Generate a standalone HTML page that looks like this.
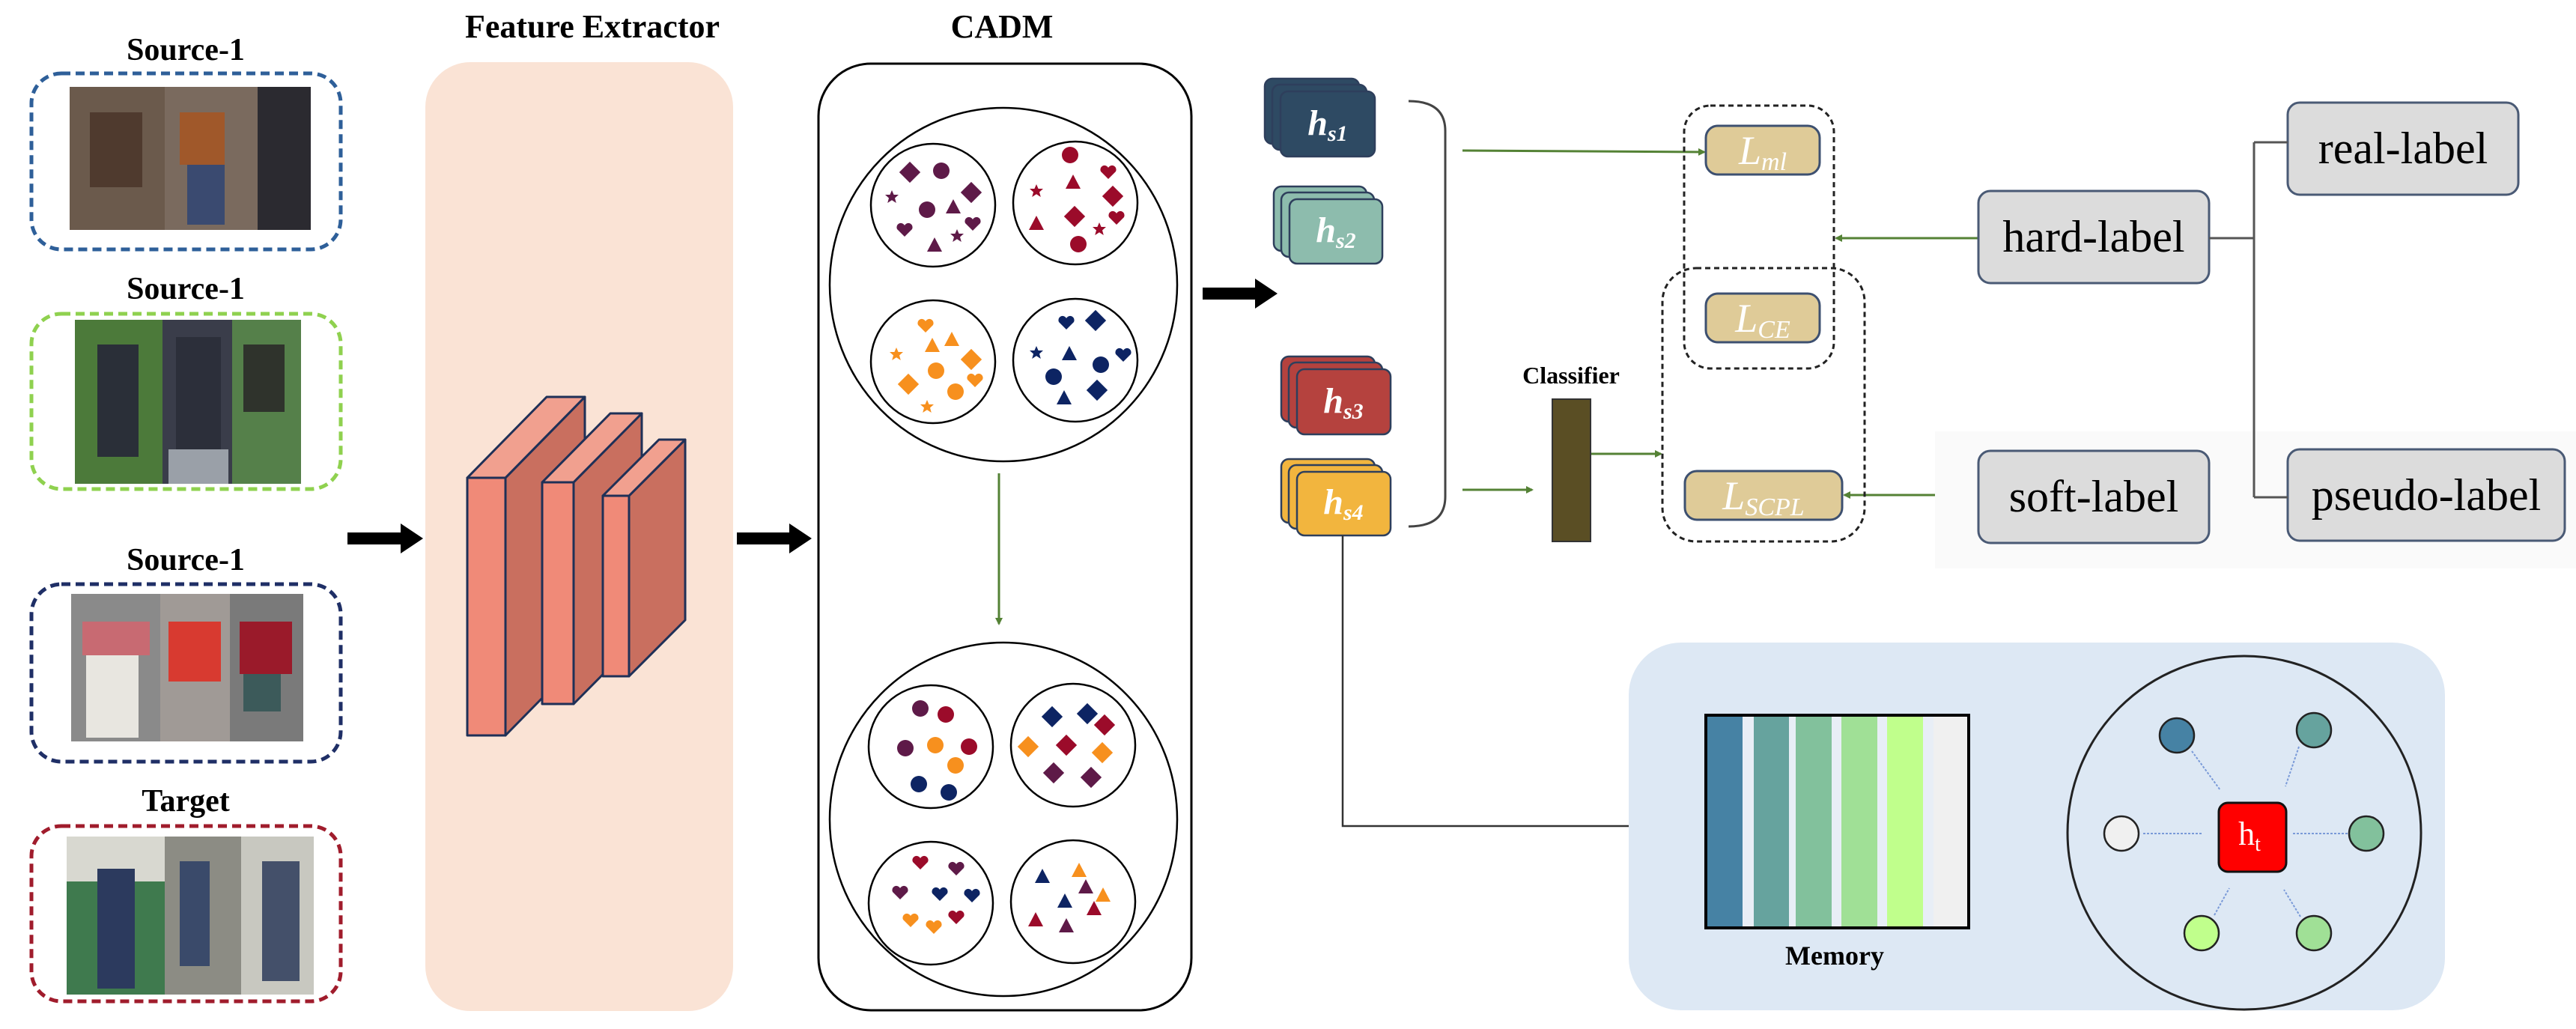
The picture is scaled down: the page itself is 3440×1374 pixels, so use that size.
<!DOCTYPE html>
<html><head><meta charset="utf-8"><style>html,body{margin:0;padding:0;background:#fff}svg{display:block}</style></head>
<body>
<svg width="3440" height="1374" viewBox="0 0 3440 1374" xmlns="http://www.w3.org/2000/svg">
<defs>
<circle id="C" r="11"/>
<rect id="D" x="-10" y="-10" width="20" height="20" transform="rotate(45)"/>
<polygon id="T" points="0,-11 10,8 -10,8"/>
<path id="H" d="M0,9 L-10,-1 A5.5,5.5 0 0 1 0,-6 A5.5,5.5 0 0 1 10,-1 Z"/>
<polygon id="S" points="0,-9 2.6,-3 9,-3 4,1.5 5.8,8 0,4.2 -5.8,8 -4,1.5 -9,-3 -2.6,-3"/>
<marker id="ga" markerWidth="10" markerHeight="10" refX="8" refY="5" orient="auto" markerUnits="userSpaceOnUse"><path d="M0,0 L10,5 L0,10 Z" fill="#548235"/></marker>
</defs>
<g font-family="Liberation Serif, serif" font-weight="bold" font-size="42" text-anchor="middle" fill="#000">
<text x="248" y="80">Source-1</text>
<text x="248" y="399">Source-1</text>
<text x="248" y="761">Source-1</text>
<text x="248" y="1083">Target</text>
<text x="791" y="50" font-size="44">Feature Extractor</text>
<text x="1338" y="50" font-size="44">CADM</text>
<text x="2098" y="512" font-size="32">Classifier</text>
</g>
<!-- image boxes -->
<g fill="none" stroke-width="5" stroke-dasharray="12,7">
<rect x="42" y="98" width="413" height="235" rx="40" stroke="#2e5f99"/>
<rect x="42" y="419" width="413" height="234" rx="40" stroke="#8fd14f"/>
<rect x="42" y="780" width="413" height="237" rx="40" stroke="#1f2f66"/>
<rect x="42" y="1103" width="413" height="234" rx="40" stroke="#a01c2c"/>
</g>
<g>
<rect x="93" y="116" width="127" height="191" fill="#6b5a4c"/><rect x="220" y="116" width="124" height="191" fill="#7a6a5e"/><rect x="344" y="116" width="71" height="191" fill="#2b2a30"/>
<rect x="120" y="150" width="70" height="100" fill="#4f3a2e"/><rect x="240" y="150" width="60" height="70" fill="#a0582a"/><rect x="250" y="220" width="50" height="80" fill="#3a4a70"/>
<rect x="100" y="427" width="117" height="219" fill="#4c7a3a"/><rect x="217" y="427" width="93" height="219" fill="#3a3d4a"/><rect x="310" y="427" width="92" height="219" fill="#55804a"/>
<rect x="130" y="460" width="55" height="150" fill="#2a2f38"/><rect x="235" y="450" width="60" height="170" fill="#2c2f3a"/><rect x="325" y="460" width="55" height="90" fill="#2f332c"/><rect x="225" y="600" width="80" height="46" fill="#9aa0a8"/>
<rect x="95" y="793" width="119" height="197" fill="#8a8a8a"/><rect x="214" y="793" width="93" height="197" fill="#a09a96"/><rect x="307" y="793" width="98" height="197" fill="#7a7a7a"/>
<rect x="110" y="830" width="90" height="45" fill="#c86a72"/><rect x="115" y="875" width="70" height="110" fill="#e8e6e0"/><rect x="225" y="830" width="70" height="80" fill="#d83a30"/><rect x="320" y="830" width="70" height="70" fill="#9a1a2a"/><rect x="325" y="900" width="50" height="50" fill="#3c5a5a"/>
<rect x="89" y="1117" width="131" height="211" fill="#3f7a4e"/><rect x="220" y="1117" width="102" height="211" fill="#8c8c84"/><rect x="322" y="1117" width="97" height="211" fill="#c8c8c0"/>
<rect x="89" y="1117" width="131" height="60" fill="#d8d8d0"/><rect x="130" y="1160" width="50" height="160" fill="#2c3a5e"/><rect x="240" y="1150" width="40" height="140" fill="#3a4a6a"/><rect x="350" y="1150" width="50" height="160" fill="#44506a"/>
</g>
<!-- feature extractor -->
<rect x="568" y="83" width="411" height="1267" rx="60" fill="#fae3d5"/>
<g stroke="#1f3057" stroke-width="3" stroke-linejoin="round">
<polygon points="675,638 781,530 781,874 675,982" fill="#c96f5f"/><polygon points="624,638 675,638 781,530 730,530" fill="#f1a08f"/><rect x="624" y="638" width="51" height="344" fill="#f08a78"/>
<polygon points="766,644 857,552 857,848 766,940" fill="#c96f5f"/><polygon points="724,644 766,644 857,552 815,552" fill="#f1a08f"/><rect x="724" y="644" width="42" height="296" fill="#f08a78"/>
<polygon points="840,662 915,587 915,828 840,903" fill="#c96f5f"/><polygon points="805,662 840,662 915,587 880,587" fill="#f1a08f"/><rect x="805" y="662" width="35" height="241" fill="#f08a78"/>
</g>
<!-- black arrows -->
<g fill="#000">
<polygon points="464,711 535,711 535,699 565,719 535,739 535,727 464,727"/>
<polygon points="984,711 1054,711 1054,699 1084,719 1054,739 1054,727 984,727"/>
<polygon points="1606,384 1676,384 1676,372 1706,392 1676,412 1676,400 1606,400"/>
</g>
<!-- CADM -->
<rect x="1093" y="85" width="498" height="1264" rx="70" fill="none" stroke="#000" stroke-width="3"/>
<g fill="none" stroke="#000" stroke-width="2.5">
<ellipse cx="1340" cy="380" rx="232" ry="236"/><ellipse cx="1340" cy="1094" rx="232" ry="236"/>
<ellipse cx="1246" cy="274" rx="83" ry="82"/><ellipse cx="1436" cy="271" rx="83" ry="82"/><ellipse cx="1246" cy="483" rx="83" ry="82"/><ellipse cx="1436" cy="481" rx="83" ry="82"/>
<ellipse cx="1243" cy="997" rx="83" ry="82"/><ellipse cx="1433" cy="995" rx="83" ry="82"/><ellipse cx="1243" cy="1206" rx="83" ry="82"/><ellipse cx="1433" cy="1204" rx="83" ry="82"/>
</g>
<line x1="1334" y1="632" x2="1334" y2="833" stroke="#548235" stroke-width="3" marker-end="url(#ga)"/>
<g fill="#5e1a48" transform="translate(1246,274)">
<use href="#D" x="-31" y="-44"/><use href="#D" x="51" y="-17"/><use href="#C" x="11" y="-46"/><use href="#C" x="-8" y="6"/><use href="#S" x="-55" y="-11"/><use href="#S" x="32" y="41"/><use href="#T" x="27" y="3"/><use href="#T" x="2" y="54"/><use href="#H" x="-38" y="33"/><use href="#H" x="53" y="25"/>
</g>
<g fill="#9b0b2a" transform="translate(1436,271)">
<use href="#C" x="-7" y="-64"/><use href="#T" x="-3" y="-27"/><use href="#H" x="44" y="-41"/><use href="#S" x="-52" y="-16"/><use href="#D" x="50" y="-9"/><use href="#H" x="55" y="20"/><use href="#T" x="-52" y="28"/><use href="#D" x="-1" y="18"/><use href="#S" x="32" y="35"/><use href="#C" x="4" y="55"/>
</g>
<g fill="#f7901e" transform="translate(1246,483)">
<use href="#H" x="-10" y="-48"/><use href="#T" x="-1" y="-21"/><use href="#T" x="25" y="-29"/><use href="#S" x="-49" y="-10"/><use href="#D" x="51" y="-3"/><use href="#C" x="4" y="12"/><use href="#D" x="-33" y="30"/><use href="#H" x="56" y="25"/><use href="#C" x="30" y="40"/><use href="#S" x="-8" y="60"/>
</g>
<g fill="#0d2463" transform="translate(1436,481)">
<use href="#H" x="-12" y="-50"/><use href="#D" x="27" y="-53"/><use href="#S" x="-52" y="-10"/><use href="#T" x="-8" y="-8"/><use href="#H" x="64" y="-7"/><use href="#C" x="-29" y="22"/><use href="#C" x="34" y="6"/><use href="#D" x="29" y="40"/><use href="#T" x="-15" y="51"/>
</g>
<g transform="translate(1243,997)">
<use href="#C" x="-14" y="-51" fill="#5e1a48"/><use href="#C" x="-34" y="2" fill="#5e1a48"/><use href="#C" x="20" y="-43" fill="#9b0b2a"/><use href="#C" x="51" y="0" fill="#9b0b2a"/><use href="#C" x="6" y="-2" fill="#f7901e"/><use href="#C" x="33" y="25" fill="#f7901e"/><use href="#C" x="-16" y="50" fill="#0d2463"/><use href="#C" x="24" y="61" fill="#0d2463"/>
</g>
<g transform="translate(1433,995)">
<use href="#D" x="-28" y="-38" fill="#0d2463"/><use href="#D" x="19" y="-42" fill="#0d2463"/><use href="#D" x="42" y="-27" fill="#9b0b2a"/><use href="#D" x="-9" y="0" fill="#9b0b2a"/><use href="#D" x="-60" y="2" fill="#f7901e"/><use href="#D" x="39" y="10" fill="#f7901e"/><use href="#D" x="-26" y="37" fill="#5e1a48"/><use href="#D" x="24" y="43" fill="#5e1a48"/>
</g>
<g transform="translate(1243,1206)">
<use href="#H" x="-14" y="-54" fill="#9b0b2a"/><use href="#H" x="34" y="-46" fill="#5e1a48"/><use href="#H" x="-41" y="-14" fill="#5e1a48"/><use href="#H" x="12" y="-12" fill="#0d2463"/><use href="#H" x="55" y="-10" fill="#0d2463"/><use href="#H" x="34" y="19" fill="#9b0b2a"/><use href="#H" x="-27" y="23" fill="#f7901e"/><use href="#H" x="4" y="32" fill="#f7901e"/>
</g>
<g transform="translate(1433,1204)">
<use href="#T" x="-41" y="-33" fill="#0d2463"/><use href="#T" x="8" y="-41" fill="#f7901e"/><use href="#T" x="17" y="-19" fill="#5e1a48"/><use href="#T" x="40" y="-8" fill="#f7901e"/><use href="#T" x="-11" y="0" fill="#0d2463"/><use href="#T" x="28" y="10" fill="#9b0b2a"/><use href="#T" x="-50" y="25" fill="#9b0b2a"/><use href="#T" x="-9" y="33" fill="#5e1a48"/>
</g>
<!-- h cards -->
<g stroke="#2e3f5c" stroke-width="2.5">
<rect x="1689" y="105" width="126" height="87" rx="10" fill="#2e4a63"/><rect x="1699" y="113" width="126" height="87" rx="10" fill="#2e4a63"/><rect x="1710" y="122" width="126" height="87" rx="10" fill="#2e4a63"/>
<rect x="1701" y="249" width="124" height="86" rx="10" fill="#8dbcad"/><rect x="1711" y="257" width="124" height="86" rx="10" fill="#8dbcad"/><rect x="1722" y="266" width="124" height="86" rx="10" fill="#8dbcad"/>
<rect x="1711" y="476" width="125" height="87" rx="10" fill="#b5423e"/><rect x="1721" y="484" width="125" height="87" rx="10" fill="#b5423e"/><rect x="1732" y="493" width="125" height="87" rx="10" fill="#b5423e"/>
<rect x="1711" y="613" width="125" height="85" rx="10" fill="#f2b53e"/><rect x="1721" y="621" width="125" height="85" rx="10" fill="#f2b53e"/><rect x="1732" y="630" width="125" height="85" rx="10" fill="#f2b53e"/>
</g>
<g font-family="Liberation Serif, serif" font-style="italic" font-weight="bold" fill="#fff" font-size="48" text-anchor="middle">
<text x="1773" y="180">h<tspan font-size="30" dy="8">s1</tspan></text>
<text x="1784" y="323">h<tspan font-size="30" dy="8">s2</tspan></text>
<text x="1794" y="551">h<tspan font-size="30" dy="8">s3</tspan></text>
<text x="1794" y="686">h<tspan font-size="30" dy="8">s4</tspan></text>
</g>
<path d="M1881,135 Q1930,135 1930,175 L1930,663 Q1930,703 1881,703" fill="none" stroke="#444" stroke-width="3"/>
<g stroke="#548235" stroke-width="3" fill="none">
<line x1="1953" y1="201" x2="2276" y2="203" marker-end="url(#ga)"/>
<line x1="1953" y1="654" x2="2046" y2="654" marker-end="url(#ga)"/>
<line x1="2124" y1="606" x2="2218" y2="606" marker-end="url(#ga)"/>
<line x1="2642" y1="318" x2="2452" y2="318" marker-end="url(#ga)"/>
<line x1="2642" y1="661" x2="2463" y2="661" marker-end="url(#ga)"/>
</g>
<rect x="2073" y="533" width="51" height="190" fill="#5a4e24" stroke="#333" stroke-width="2"/>
<rect x="2584" y="576" width="856" height="183" fill="#fafafa"/>
<g fill="none" stroke="#222" stroke-width="3" stroke-dasharray="7,5">
<rect x="2249" y="141" width="200" height="351" rx="35"/>
<rect x="2220" y="358" width="270" height="365" rx="45"/>
</g>
<g stroke="#3d5070" stroke-width="3" fill="#dfcb98">
<rect x="2278" y="168" width="152" height="65" rx="16"/>
<rect x="2278" y="392" width="152" height="65" rx="16"/>
<rect x="2250" y="629" width="210" height="65" rx="16"/>
</g>
<g font-family="Liberation Serif, serif" font-style="italic" fill="#fff" font-size="54" text-anchor="middle">
<text x="2354" y="219">L<tspan font-size="34" dy="8">ml</tspan></text>
<text x="2354" y="443">L<tspan font-size="34" dy="8">CE</tspan></text>
<text x="2355" y="680">L<tspan font-size="34" dy="8">SCPL</tspan></text>
</g>
<g stroke="#4a5a75" stroke-width="3" fill="#dcdcdc">
<rect x="2642" y="255" width="308" height="123" rx="16"/>
<rect x="3055" y="137" width="308" height="123" rx="16"/>
<rect x="2642" y="602" width="308" height="123" rx="16"/>
<rect x="3055" y="600" width="370" height="122" rx="16"/>
</g>
<g font-family="Liberation Serif, serif" fill="#000" font-size="60" text-anchor="middle">
<text x="2796" y="336">hard-label</text>
<text x="3209" y="218">real-label</text>
<text x="2796" y="683">soft-label</text>
<text x="3240" y="681">pseudo-label</text>
</g>
<path d="M2950,318 L3010,318 M3010,190 L3010,664 M3010,190 L3055,190 M3010,664 L3055,664" stroke="#555" stroke-width="3" fill="none"/>
<!-- memory -->
<path d="M1793,715 L1793,1103 L2175,1103" fill="none" stroke="#333" stroke-width="2.5"/>
<rect x="2175" y="858" width="1090" height="491" rx="70" fill="#dde8f4"/>
<rect x="2278" y="955" width="351" height="284" fill="#e8eef6"/>
<rect x="2280" y="957" width="47" height="280" fill="#4682a4"/>
<rect x="2342" y="957" width="47" height="280" fill="#66a39e"/>
<rect x="2398" y="957" width="48" height="280" fill="#82c19c"/>
<rect x="2459" y="957" width="48" height="280" fill="#a0e096"/>
<rect x="2520" y="957" width="48" height="280" fill="#c0ff8c"/>
<rect x="2582" y="957" width="46" height="280" fill="#f0f0f0"/>
<rect x="2278" y="955" width="351" height="284" fill="none" stroke="#000" stroke-width="4"/>
<text x="2450" y="1288" font-family="Liberation Serif, serif" font-weight="bold" font-size="36" text-anchor="middle" fill="#000">Memory</text>
<circle cx="2997" cy="1112" r="236" fill="none" stroke="#222" stroke-width="3"/>
<g stroke="#7a9ad8" stroke-width="2" stroke-dasharray="3,2">
<line x1="2927" y1="1003" x2="2965" y2="1055"/><line x1="3070" y1="997" x2="3052" y2="1050"/>
<line x1="2862" y1="1113" x2="2942" y2="1113"/><line x1="3062" y1="1113" x2="3135" y2="1113"/>
<line x1="2957" y1="1222" x2="2977" y2="1186"/><line x1="3072" y1="1224" x2="3050" y2="1188"/>
</g>
<rect x="2963" y="1072" width="90" height="92" rx="12" fill="#ff0000" stroke="#111" stroke-width="3"/>
<text x="3004" y="1128" font-family="Liberation Serif, serif" font-size="44" fill="#fff" text-anchor="middle">h<tspan font-size="28" dy="8">t</tspan></text>
<g stroke="#222" stroke-width="2.5">
<circle cx="2907" cy="982" r="23" fill="#4682a4"/><circle cx="3090" cy="975" r="23" fill="#66a39e"/>
<circle cx="2833" cy="1113" r="23" fill="#f0f0f0"/><circle cx="3160" cy="1113" r="23" fill="#82c19c"/>
<circle cx="2940" cy="1246" r="23" fill="#c0ff8c"/><circle cx="3090" cy="1246" r="23" fill="#a0e096"/>
</g>
</svg>
</body></html>
